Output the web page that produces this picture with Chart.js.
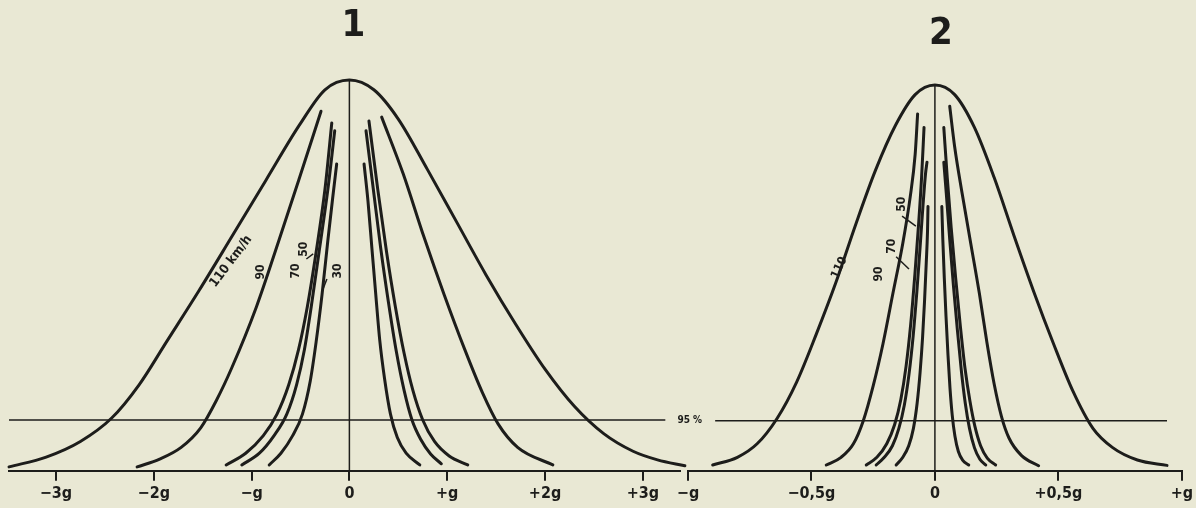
<!DOCTYPE html>
<html>
<head>
<meta charset="utf-8">
<script src="https://cdn.jsdelivr.net/npm/chart.js@4.4.1/dist/chart.umd.min.js"></script>
<style>
  html, body { margin: 0; background: #e9e8d4; }
  #wrap { position: relative; width: 1196px; height: 508px; overflow: hidden; }
  .panel { position: absolute; top: 0; }
</style>
</head>
<body>
<div id="wrap">
  <canvas id="chart1" class="panel" width="720" height="508" style="left:0"></canvas>
  <canvas id="chart2" class="panel" width="536" height="508" style="left:660px"></canvas>
</div>
<script>
const INK = "#1d1d1b";
const FONT = "'Liberation Sans Narrow', 'DejaVu Sans Condensed', 'Liberation Sans', sans-serif";

// x = lateral acceleration in g, y = share of the peak frequency (%)
// panel 1
const p1_110 = [[-3.48,1.0],[-3.1,3.5],[-2.75,7.5],[-2.43,13.5],[-2.15,22],[-1.87,33],[-1.54,46],[-1.20,60],[-0.85,74.5],[-0.51,88.5],[-0.25,97.5],[0,100],[0.25,97.5],[0.50,90],[0.80,77],[1.10,63.5],[1.40,50],[1.70,37.5],[2.00,26],[2.30,16.5],[2.60,9.5],[2.90,5],[3.15,2.8],[3.43,1.3]];
const p1_90L = [[-2.17,1.0],[-1.94,3.0],[-1.72,6.0],[-1.52,11],[-1.36,18],[-1.20,26.5],[-0.95,42],[-0.72,59],[-0.51,75],[-0.29,92]];
const p1_90R = [[0.33,90.5],[0.55,76],[0.76,60],[0.97,45],[1.18,31],[1.36,20],[1.52,12],[1.72,6],[2.08,1.5]];
const p1_70L = [[-1.26,1.5],[-1.06,4.5],[-0.88,9],[-0.74,14.5],[-0.62,22],[-0.52,31],[-0.43,42],[-0.34,56],[-0.25,72],[-0.18,89]];
const p1_70R = [[0.20,89.5],[0.29,72],[0.38,56],[0.47,42],[0.56,30],[0.65,20.5],[0.75,13],[0.87,7.5],[1.02,3.8],[1.21,1.5]];
const p1_50L = [[-1.10,1.5],[-0.92,4.5],[-0.77,9],[-0.64,14.5],[-0.54,22],[-0.46,31],[-0.39,42],[-0.31,56],[-0.22,72],[-0.15,87]];
const p1_50R = [[0.17,87],[0.24,73],[0.32,57],[0.40,43],[0.48,30.5],[0.56,20.5],[0.64,13],[0.73,8],[0.83,4.3],[0.94,1.8]];
const p1_30L = [[-0.82,1.5],[-0.70,4.5],[-0.58,9],[-0.48,14.5],[-0.40,23],[-0.34,33],[-0.28,45],[-0.22,59],[-0.17,70],[-0.13,78.5]];
const p1_30R = [[0.15,78.5],[0.19,69],[0.23,57],[0.27,45],[0.31,33.5],[0.36,23.5],[0.42,14.5],[0.49,8.5],[0.58,4.5],[0.72,1.5]];

// panel 2
const p2_110 = [[-0.90,1.5],[-0.80,3.5],[-0.72,7],[-0.64,13.5],[-0.56,23],[-0.48,35.5],[-0.40,49],[-0.32,64],[-0.24,78],[-0.16,89.5],[-0.08,97.5],[0,100],[0.08,97.5],[0.16,89],[0.24,76],[0.32,61],[0.40,46.5],[0.48,33],[0.56,20.5],[0.64,11],[0.72,6],[0.82,2.8],[0.94,1.4]];
const p2_90L = [[-0.44,1.5],[-0.38,3.5],[-0.33,7],[-0.29,13],[-0.25,22],[-0.21,33],[-0.17,46],[-0.13,59],[-0.10,71],[-0.08,82],[-0.07,92.5]];
const p2_90R = [[0.06,94.5],[0.08,84],[0.11,72],[0.145,59],[0.18,46],[0.21,33.5],[0.24,22.5],[0.27,14],[0.30,8.5],[0.35,4],[0.42,1.3]];
const p2_70L = [[-0.278,1.5],[-0.235,3.5],[-0.195,7],[-0.163,12],[-0.138,18.5],[-0.117,27],[-0.098,38],[-0.081,51],[-0.066,64],[-0.054,76],[-0.044,89]];
const p2_70R = [[0.036,89],[0.050,76],[0.066,63],[0.084,50],[0.103,37.5],[0.122,26.5],[0.142,18],[0.162,11.5],[0.185,6.5],[0.212,3.3],[0.246,1.5]];
const p2_50L = [[-0.238,1.5],[-0.205,3.5],[-0.172,6.5],[-0.146,11],[-0.124,17],[-0.105,25],[-0.088,35],[-0.073,46.5],[-0.060,58],[-0.048,69],[-0.038,77],[-0.032,80]];
const p2_50R = [[0.036,80],[0.046,72],[0.060,60],[0.075,48],[0.091,36.5],[0.107,26],[0.123,17.5],[0.140,11],[0.160,6],[0.182,3],[0.206,1.5]];
const p2_30L = [[-0.157,1.5],[-0.130,3.5],[-0.106,6.5],[-0.087,11],[-0.072,17.5],[-0.060,25.5],[-0.050,34.5],[-0.042,44],[-0.035,54],[-0.030,62],[-0.028,68.5]];
const p2_30R = [[0.028,68.5],[0.032,60],[0.038,50],[0.045,40],[0.053,30],[0.061,21.5],[0.070,14.5],[0.081,9],[0.095,5],[0.113,2.7],[0.137,1.5]];

const level95 = 13;
const p1_line95 = [[-3.48, level95], [3.23, level95]];
const p2_line95 = [[-0.89, level95], [0.94, level95]];
const centre = [[0, 0], [0, 100]];

const p1Ticks = [-3, -2, -1, 0, 1, 2, 3];
const p1TickLabels = ["−3g", "−2g", "−g", "0", "+g", "+2g", "+3g"];
const p2Ticks = [-1, -0.5, 0, 0.5, 1];
const p2TickLabels = ["−g", "−0,5g", "0", "+0,5g", "+g"];

function curve(points, width = 3) {
  return {
    data: points.map(([x, y]) => ({ x, y })),
    borderColor: INK,
    borderWidth: width,
    pointRadius: 0,
    showLine: true,
    fill: false,
    cubicInterpolationMode: "monotone",
    borderCapStyle: "round",
    borderJoinStyle: "round",
    clip: false
  };
}

function straight(points, width) {
  return { ...curve(points, width), cubicInterpolationMode: "default", tension: 0, borderCapStyle: "butt" };
}

// speed labels, little pointer strokes and the panel number
const annotate = {
  id: "annotate",
  afterDatasetsDraw(chart, args, opts) {
    const { ctx, chartArea, scales: { x, y } } = chart;
    ctx.save();
    ctx.fillStyle = INK;
    ctx.strokeStyle = INK;
    ctx.textAlign = "center";
    ctx.textBaseline = "middle";
    for (const t of opts.texts) {
      ctx.save();
      ctx.translate(x.getPixelForValue(t.x), y.getPixelForValue(t.y));
      ctx.rotate(t.rot * Math.PI / 180);
      ctx.font = `bold ${t.size}px ${FONT}`;
      ctx.fillText(t.text, 0, 0);
      ctx.restore();
    }
    ctx.lineWidth = 1.5;
    for (const [x1, y1, x2, y2] of opts.pointers) {
      ctx.beginPath();
      ctx.moveTo(x.getPixelForValue(x1), y.getPixelForValue(y1));
      ctx.lineTo(x.getPixelForValue(x2), y.getPixelForValue(y2));
      ctx.stroke();
    }
    ctx.font = `bold 38px ${FONT}`;
    ctx.fillText(opts.title, x.getPixelForValue(opts.titleX), chartArea.top + opts.titleDy);
    ctx.restore();
  }
};

function makeChart(id, cfg) {
  return new Chart(document.getElementById(id), {
    type: "scatter",
    data: { datasets: cfg.datasets },
    options: {
      responsive: false,
      animation: false,
      devicePixelRatio: 1,
      layout: { padding: cfg.padding },
      plugins: {
        legend: { display: false },
        tooltip: { enabled: false },
        annotate: cfg.notes
      },
      scales: {
        x: {
          type: "linear",
          min: cfg.min,
          max: cfg.max,
          afterBuildTicks: ax => { ax.ticks = cfg.ticks.map(v => ({ value: v })); },
          ticks: {
            callback: (v, i) => cfg.labels[i],
            autoSkip: false,
            maxRotation: 0,
            color: INK,
            padding: 3,
            font: { family: FONT, size: 16, weight: "bold" }
          },
          grid: { drawOnChartArea: false, drawTicks: true, tickLength: 10, color: INK, lineWidth: 2 },
          border: { display: true, color: INK, width: 2 }
        },
        y: { display: false, min: 0, max: 100 }
      }
    },
    plugins: [annotate]
  });
}

makeChart("chart1", {
  min: -3.48, max: 3.38,
  ticks: p1Ticks, labels: p1TickLabels,
  padding: { left: 9, right: 40, top: 80, bottom: 2 },
  datasets: [
    curve(p1_110), curve(p1_90L), curve(p1_90R), curve(p1_70L), curve(p1_70R),
    curve(p1_50L), curve(p1_50R), curve(p1_30L), curve(p1_30R),
    straight(centre, 1.5), straight(p1_line95, 1.5)
  ],
  notes: {
    title: "1", titleX: 0.04, titleDy: -54,
    texts: [
      { text: "110 km/h", x: -1.21, y: 53.6, rot: -53, size: 13 },
      { text: "90", x: -0.90, y: 50.9, rot: -90, size: 12 },
      { text: "70", x: -0.55, y: 51.1, rot: -90, size: 12 },
      { text: "50", x: -0.47, y: 56.7, rot: -90, size: 12 },
      { text: "30", x: -0.12, y: 51.1, rot: -90, size: 12 },
      { text: "95 %", x: 3.48, y: level95, rot: 0, size: 10 }
    ],
    pointers: [[-0.23, 49.1, -0.28, 45.8], [-0.44, 54.2, -0.37, 55.5]]
  }
});

makeChart("chart2", {
  min: -1, max: 1,
  ticks: p2Ticks, labels: p2TickLabels,
  padding: { left: 28, right: 12, top: 85, bottom: 2 },
  datasets: [
    curve(p2_110), curve(p2_90L), curve(p2_90R), curve(p2_70L), curve(p2_70R),
    curve(p2_50L), curve(p2_50R), curve(p2_30L), curve(p2_30R),
    straight(centre, 1.5), straight(p2_line95, 1.5)
  ],
  notes: {
    title: "2", titleX: 0.024, titleDy: -51,
    texts: [
      { text: "110", x: -0.387, y: 52.6, rot: -65, size: 12 },
      { text: "90", x: -0.226, y: 51.0, rot: -90, size: 12 },
      { text: "70", x: -0.173, y: 58.2, rot: -90, size: 12 },
      { text: "50", x: -0.133, y: 69.1, rot: -90, size: 12 }
    ],
    pointers: [[-0.157, 55.5, -0.105, 52.3], [-0.133, 66.0, -0.077, 63.4]]
  }
});
</script>
</body>
</html>
